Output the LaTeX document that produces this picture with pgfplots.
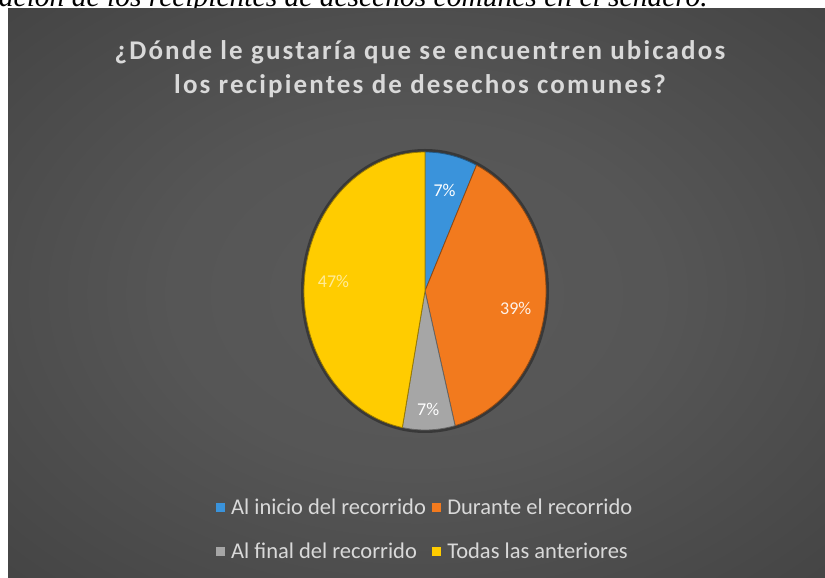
\documentclass[border=0pt]{standalone}
\usepackage{pgfplots}
\pgfplotsset{compat=1.18}
\usepackage{pgfplotstable}
\usepackage{fontspec}
\setmainfont{Carlito}
\newfontfamily\titlefont[LetterSpace=8]{Carlito}
\newfontfamily\capfont{Liberation Serif}
\definecolor{bgin}{HTML}{5A5A5A}
\definecolor{bgout}{HTML}{262626}
\definecolor{cA}{HTML}{3A93DB}
\definecolor{cB}{HTML}{F27A1E}
\definecolor{cC}{HTML}{A6A6A6}
\definecolor{cD}{HTML}{FFCC00}
\definecolor{txt}{HTML}{D9D9D9}
\pgfdeclareradialshading{bgshade}{\pgfpoint{0bp}{0bp}}{color(0bp)=(bgin); color(15bp)=(bgin!92!bgout); color(72bp)=(bgout)}

\pgfplotstableread{
label value
A 7
B 39
C 7
D 47
}\pietable

\begin{document}
\begin{tikzpicture}[x=1pt,y=1pt]
\clip (0,0) rectangle (825,578);
\fill[white] (0,0) rectangle (825,578);
\node[anchor=base east, inner sep=0pt, font=\capfont\itshape\fontsize{29.5}{34}\selectfont, text=black] at (708,571) {Figura 11. Ubicación de los recipientes de desechos comunes en el sendero.};
\shade[shading=bgshade] (8,0) rectangle (825,569);
\node[align=center, text=txt, font=\titlefont\bfseries\fontsize{27}{34}\selectfont] at (420,509) {¿Dónde le gustaría que se encuentren ubicados\\los recipientes de desechos comunes?};

\pgfplotstablegetelem{0}{value}\of\pietable \let\vA\pgfplotsretval
\pgfplotstablegetelem{1}{value}\of\pietable \let\vB\pgfplotsretval
\pgfplotstablegetelem{2}{value}\of\pietable \let\vC\pgfplotsretval
\pgfplotstablegetelem{3}{value}\of\pietable \let\vD\pgfplotsretval
\pgfmathsetmacro\aA{90}
\pgfmathsetmacro\aB{\aA-3.6*\vA}
\pgfmathsetmacro\aC{\aB-3.6*\vB}
\pgfmathsetmacro\aD{\aC-3.6*\vC}
\pgfmathsetmacro\aE{\aD-3.6*\vD}
\pgfmathsetmacro\mA{(\aA+\aB)/2}
\pgfmathsetmacro\mB{(\aB+\aC)/2-4}
\pgfmathsetmacro\mC{(\aC+\aD)/2}
\pgfmathsetmacro\mD{(\aD+\aE)/2}

\begin{axis}[at={(425pt,287pt)}, anchor=center, x=121pt, y=139pt,
  xmin=-1, xmax=1, ymin=-1, ymax=1, hide axis, scale only axis, clip=false,
  legend columns=2,
  legend style={at={(0.5,-0.232)}, anchor=north, draw=none, fill=none,
    text=txt, font=\fontsize{22.5}{26}\selectfont,
    /tikz/every odd column/.append style={column sep=5pt},
    /tikz/every even column/.append style={column sep=4pt},
    /tikz/row sep=23pt, cells={anchor=west}}]
\addlegendimage{legend image code/.code={\fill[cA] (0pt,-4pt) rectangle (8pt,4pt);}}
\addlegendentry{Al inicio del recorrido}
\addlegendimage{legend image code/.code={\fill[cB] (0pt,-4pt) rectangle (8pt,4pt);}}
\addlegendentry{Durante el recorrido}
\addlegendimage{legend image code/.code={\fill[cC] (0pt,-4pt) rectangle (8pt,4pt);}}
\addlegendentry{Al final del recorrido}
\addlegendimage{legend image code/.code={\fill[cD] (0pt,-4pt) rectangle (8pt,4pt);}}
\addlegendentry{Todas las anteriores}

\fill[black, opacity=0.35] (axis cs:0,0) ellipse[x radius=124pt, y radius=142pt];
\filldraw[fill=cA, draw=cA!60!black, line width=0.8pt] (axis cs:0,0) -- (axis cs:{cos(\aA)},{sin(\aA)}) arc[start angle=\aA, end angle=\aB, x radius=121pt, y radius=139pt] -- cycle;
\filldraw[fill=cB, draw=cB!60!black, line width=0.8pt] (axis cs:0,0) -- (axis cs:{cos(\aB)},{sin(\aB)}) arc[start angle=\aB, end angle=\aC, x radius=121pt, y radius=139pt] -- cycle;
\filldraw[fill=cC, draw=cC!60!black, line width=0.8pt] (axis cs:0,0) -- (axis cs:{cos(\aC)},{sin(\aC)}) arc[start angle=\aC, end angle=\aD, x radius=121pt, y radius=139pt] -- cycle;
\filldraw[fill=cD, draw=cD!60!black, line width=0.8pt] (axis cs:0,0) -- (axis cs:{cos(\aD)},{sin(\aD)}) arc[start angle=\aD, end angle=\aE, x radius=121pt, y radius=139pt] -- cycle;

\node[text=white, font=\fontsize{18}{20}\selectfont] at (axis cs:{0.74*cos(\mA)},{0.74*sin(\mA)}) {\vA\%};
\node[text=white!90!cB, font=\fontsize{18}{20}\selectfont] at (axis cs:{0.76*cos(\mB)},{0.76*sin(\mB)}) {\vB\%};
\node[text=white, font=\fontsize{18}{20}\selectfont] at (axis cs:{0.85*cos(\mC)},{0.85*sin(\mC)}) {\vC\%};
\node[text=white!60!cD, font=\fontsize{18}{20}\selectfont] at (axis cs:{0.76*cos(\mD)},{0.76*sin(\mD)}) {\vD\%};
\end{axis}
\end{tikzpicture}
\end{document}
